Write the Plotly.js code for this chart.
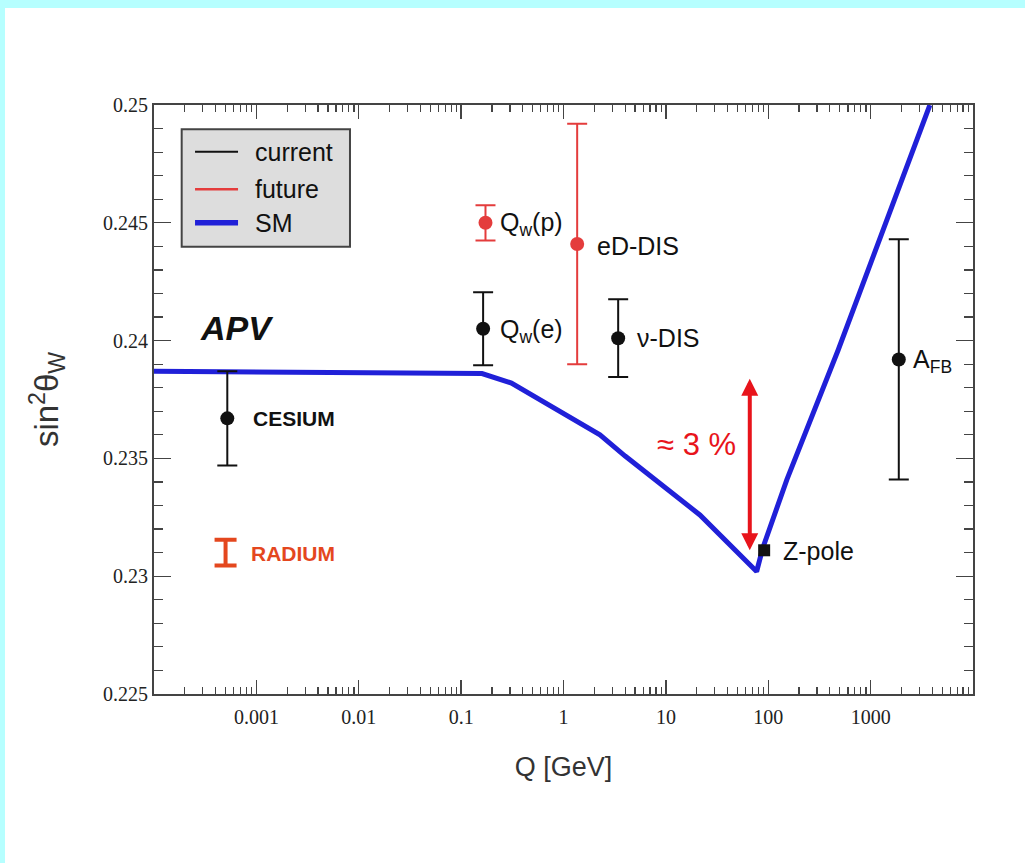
<!DOCTYPE html>
<html>
<head>
<meta charset="utf-8">
<script src="https://cdn.plot.ly/plotly-3.0.1.min.js"></script>
<style>
  html, body { margin: 0; padding: 0; background: #b6ffff; width: 1025px; height: 863px; overflow: hidden; }
  #chart { position: absolute; left: 5px; top: 8px; width: 1020px; height: 855px; background: #ffffff; }
</style>
</head>
<body>
<div id="chart"></div>
<script>
// Running of the weak mixing angle sin^2(theta_W) with energy scale Q,
// Standard Model prediction against current and planned measurements.

// Standard Model curve
const smQ    = [1e-4, 0.16, 0.31, 1.18, 2.27, 4.0, 21.5, 77, 88.5, 152, 482, 3790];
const smSin2 = [0.2387, 0.2386, 0.2382, 0.2367, 0.2360, 0.2351, 0.2326, 0.2302, 0.2312, 0.2341, 0.2396, 0.2500];

// Current measurements
const currentNames = ['CESIUM', 'Q<sub>w</sub>(e)', 'ν-DIS', 'A<sub>FB</sub>'];
const currentQ     = [5.2e-4, 0.164, 3.42, 1884];
const currentSin2  = [0.2367, 0.2405, 0.2401, 0.2392];
const currentErr   = [0.0020, 0.00155, 0.00165, 0.0051];

const zpoleNames = ['Z-pole'];
const zpoleQ     = [91.2];
const zpoleSin2  = [0.2311];

// Future measurements
const futureNames = ['Q<sub>w</sub>(p)', 'eD-DIS'];
const futureQ     = [0.173, 1.36];
const futureSin2  = [0.2450, 0.2441];
const futureErr   = [0.00075, 0.0051];

const radiumNames = ['RADIUM'];
const radiumQ     = [5.0e-4];
const radiumSin2  = [0.2310];
const radiumErr   = [0.00055];

// Shift between the low-energy plateau and the Z pole
const shiftQ      = [66];
const shiftTop    = [0.2384];
const shiftBottom = [0.2311];
const shiftLabel  = '≈ 3 %';

const regionLabel = 'APV';
const legendNames = ['current', 'future', 'SM'];

const xTickVals = [0.001, 0.01, 0.1, 1, 10, 100, 1000];
const xTickText = ['0.001', '0.01', '0.1', '1', '10', '100', '1000'];
const yTickVals = [0.225, 0.23, 0.235, 0.24, 0.245, 0.25];
const yTickText = ['0.225', '0.23', '0.235', '0.24', '0.245', '0.25'];

// ---- styling ----
const SANS  = 'Liberation Sans, Arial, Helvetica, sans-serif';
const SERIF = 'Liberation Serif, Times New Roman, serif';
const BLACK = '#111111';
const RED   = '#e43c3c';
const ORANGE = '#e4471e';
const BLUE  = '#2020d8';
const ARROW_RED = '#e8141b';
const AXIS  = '#444444';

const traces = [
  {
    x: smQ, y: smSin2, type: 'scatter', mode: 'lines', name: legendNames[2],
    line: { color: BLUE, width: 5 }, showlegend: false, hoverinfo: 'skip'
  },
  {
    x: currentQ, y: currentSin2, type: 'scatter', mode: 'markers', name: legendNames[0],
    marker: { color: BLACK, size: 14 },
    error_y: { type: 'data', array: currentErr, color: BLACK, thickness: 2, width: 10 },
    showlegend: false
  },
  {
    x: zpoleQ, y: zpoleSin2, type: 'scatter', mode: 'markers', name: zpoleNames[0],
    marker: { color: BLACK, size: 12, symbol: 'square' }, showlegend: false
  },
  {
    x: futureQ, y: futureSin2, type: 'scatter', mode: 'markers', name: legendNames[1],
    marker: { color: RED, size: 14 },
    error_y: { type: 'data', array: futureErr, color: RED, thickness: 2, width: 10 },
    showlegend: false
  },
  {
    x: radiumQ, y: radiumSin2, type: 'scatter', mode: 'markers', name: radiumNames[0],
    marker: { color: ORANGE, size: 0.1, opacity: 0 },
    error_y: { type: 'data', array: radiumErr, color: ORANGE, thickness: 4, width: 11 },
    showlegend: false
  }
];

// Text beside each point: pixel offsets from the marker centre
const labelShift = {
  'CESIUM':            { dx: 24, dy: 0,  size: 21, bold: true,  color: BLACK },
  'Q<sub>w</sub>(e)':  { dx: 15, dy: -2, size: 25, color: BLACK },
  'ν-DIS':             { dx: 17, dy: 0,  size: 25, color: BLACK },
  'A<sub>FB</sub>':    { dx: 12, dy: -2, size: 25, color: BLACK },
  'Z-pole':            { dx: 17, dy: -1, size: 25, color: BLACK },
  'Q<sub>w</sub>(p)':  { dx: 13, dy: -1, size: 25, color: BLACK },
  'eD-DIS':            { dx: 18, dy: -2, size: 25, color: BLACK },
  'RADIUM':            { dx: 23, dy: -1, size: 21, bold: true,  color: ORANGE }
};

const annotations = [];
function addLabels(names, qs, ys) {
  names.forEach((name, i) => {
    const st = labelShift[name];
    annotations.push({
      x: Math.log10(qs[i]), y: ys[i], xref: 'x', yref: 'y',
      text: st.bold ? '<b>' + name + '</b>' : name,
      showarrow: false, xanchor: 'left', yanchor: 'middle',
      xshift: st.dx, yshift: st.dy,
      font: { family: SANS, size: st.size, color: st.color }
    });
  });
}
addLabels(currentNames, currentQ, currentSin2);
addLabels(zpoleNames, zpoleQ, zpoleSin2);
addLabels(futureNames, futureQ, futureSin2);
addLabels(radiumNames, radiumQ, radiumSin2);

// Double-headed arrow marking the shift
annotations.push({
  x: Math.log10(shiftQ[0]), y: shiftBottom[0], xref: 'x', yref: 'y',
  ax: Math.log10(shiftQ[0]), ay: shiftTop[0], axref: 'x', ayref: 'y',
  text: '', font: { size: 1 }, borderpad: 0, showarrow: true, arrowside: 'end+start',
  arrowhead: 2, startarrowhead: 2, arrowsize: 0.85, startarrowsize: 0.85,
  arrowwidth: 4, arrowcolor: ARROW_RED, standoff: 0, startstandoff: 0
});
annotations.push({
  x: Math.log10(shiftQ[0]), y: 0.2356, xref: 'x', yref: 'y',
  text: shiftLabel, showarrow: false, xanchor: 'right', yanchor: 'middle', xshift: -12,
  font: { family: SANS, size: 31, color: ARROW_RED }
});

// Region label
annotations.push({
  x: 0.0533, y: 0.6214, xref: 'paper', yref: 'paper',
  text: '<b><i>' + regionLabel + '</i></b>', showarrow: false,
  xanchor: 'left', yanchor: 'middle',
  font: { family: SANS, size: 34, color: BLACK }
});

// Legend box drawn in paper coordinates
const legBox = { x0: 0.0338, x1: 0.2393, y0: 0.7594, y1: 0.9587 };
const legRows = [0.9207, 0.8569, 0.8001];
const legLineX = [0.0501, 0.1026];
const legTextX = 0.1209;
const legStyles = [
  { color: BLACK, width: 2 },
  { color: RED, width: 2.5 },
  { color: BLUE, width: 5.5 }
];

const shapes = [{
  type: 'rect', xref: 'paper', yref: 'paper',
  x0: legBox.x0, x1: legBox.x1, y0: legBox.y0, y1: legBox.y1,
  fillcolor: '#dddddd', line: { color: '#444444', width: 2 }, layer: 'above'
}];
legendNames.forEach((name, i) => {
  shapes.push({
    type: 'line', xref: 'paper', yref: 'paper',
    x0: legLineX[0], x1: legLineX[1], y0: legRows[i], y1: legRows[i],
    line: legStyles[i], layer: 'above'
  });
  annotations.push({
    x: legTextX, y: legRows[i], xref: 'paper', yref: 'paper',
    text: name, showarrow: false, xanchor: 'left', yanchor: 'middle',
    font: { family: SANS, size: 25, color: BLACK }
  });
});

const layout = {
  width: 1020, height: 855,
  margin: { l: 149, r: 52, t: 97, b: 169 },
  paper_bgcolor: '#ffffff', plot_bgcolor: '#ffffff',
  showlegend: false,
  xaxis: {
    type: 'log', range: [-4, 4],
    tickmode: 'array', tickvals: xTickVals, ticktext: xTickText,
    ticks: 'inside', ticklen: 14, tickwidth: 1.3, tickcolor: AXIS,
    minor: { ticks: 'inside', ticklen: 7, tickwidth: 1.2, tickcolor: AXIS, dtick: 'D1', showgrid: false },
    showline: true, linecolor: AXIS, linewidth: 2, mirror: 'allticks',
    showgrid: false, zeroline: false, ticklabelstandoff: 4,
    tickfont: { family: SERIF, size: 20, color: '#222222' },
    title: { text: 'Q [GeV]', font: { family: SANS, size: 27, color: '#333333' }, standoff: 30 }
  },
  yaxis: {
    range: [0.225, 0.25],
    tickmode: 'array', tickvals: yTickVals, ticktext: yTickText,
    ticks: 'inside', ticklen: 17, tickwidth: 1.3, tickcolor: AXIS,
    minor: { ticks: 'inside', ticklen: 9, tickwidth: 1.2, tickcolor: AXIS, dtick: 0.001, showgrid: false },
    showline: true, linecolor: AXIS, linewidth: 2, mirror: 'allticks',
    showgrid: false, zeroline: false,
    tickfont: { family: SERIF, size: 20, color: '#222222' },
    title: { text: 'sin<sup>2</sup>θ<sub>W</sub>', font: { family: SANS, size: 33, color: '#333333' }, standoff: 34 }
  },
  shapes: shapes,
  annotations: annotations
};

Plotly.newPlot('chart', traces, layout, { displayModeBar: false, staticPlot: true });
</script>
</body>
</html>
